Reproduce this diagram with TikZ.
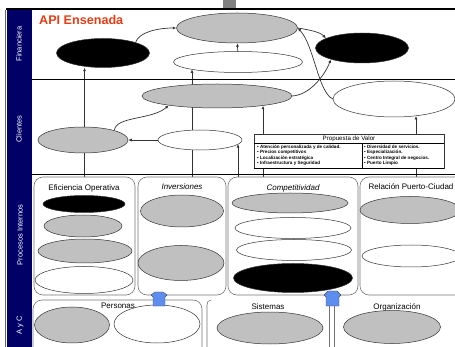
\documentclass[tikz,border=0pt]{standalone}
\usepackage{fontspec}
\setmainfont{Liberation Sans}
\usetikzlibrary{positioning,shapes.geometric,arrows.meta}
\definecolor{bandblue}{RGB}{0,0,102}
\definecolor{titlered}{RGB}{228,62,22}
\definecolor{ovalgray}{RGB}{192,192,192}
\definecolor{liftblue}{RGB}{92,142,240}
\pgfdeclarelayer{back}
\pgfsetlayers{back,main}

\begin{document}
\begin{tikzpicture}[
  x=1pt, y=-1pt,
  oval/.style={ellipse, draw=black!80, line width=0.5pt, inner sep=0pt},
  gryoval/.style={oval, fill=ovalgray},
  whtoval/.style={oval, fill=white},
  blkoval/.style={oval, fill=black},
  area/.style={draw=black!55, line width=0.6pt, rounded corners=9pt, inner sep=0pt},
  areatitle/.style={font=\fontsize{8}{9}\selectfont, inner sep=0pt},
  bandtext/.style={rotate=90, text=white, font=\fontsize{7.5}{8}\selectfont},
  arr/.style={-{Latex[length=3.5pt,width=3pt]}, line width=0.7pt, black!80},
  lift/.style={fill=liftblue, draw=black!70, line width=0.4pt, line join=round}
]
\useasboundingbox (0,0) rectangle (455,347);
\clip (0,0) rectangle (455,347);

% frame and perspective band
\fill[black!50] (223,0) rectangle (236,8);
\draw[line width=1.6pt] (6,9) -- (455,9);
\fill[bandblue] (7,10) rectangle (32,347);
\draw[black!60, line width=0.8pt] (5.5,10) -- (5.5,347);
\draw[line width=0.8pt] (32,79) -- (455,79);
\draw[line width=0.8pt] (32,174) -- (455,174);

\node[bandtext] (lbl-fin) at (19,44) {Financiera};
\node[bandtext] (lbl-cli) at (19,129) {Clientes};
\node[bandtext] (lbl-pro) at (20,235) {Procesos Internos};
\node[bandtext] (lbl-ayc) at (20,325) {A y C};

\node[font=\fontsize{12.6}{14}\bfseries\selectfont, text=titlered,
      anchor=west, inner sep=0pt] (title) at (39,20) {API Ensenada};

% Financiera
\node[gryoval, minimum width=121, minimum height=30] (fin-gray) at (237,28) {};
\node[blkoval, minimum width=93, minimum height=29] (fin-black) at (103,53) {};
\node[whtoval, minimum width=129, minimum height=21] (fin-white) at (238,62) {};
\node[blkoval, minimum width=93, minimum height=30] (fin-blk-r) at (362,48) {};

% Clientes
\node[gryoval, minimum width=150, minimum height=24] (cli-gray-top) at (217,96) {};
\node[whtoval, minimum width=122, minimum height=36] (cli-white-r) at (394,99) {};
\node[gryoval, minimum width=90, minimum height=26] (cli-gray) at (83,140) {};
\node[whtoval, minimum width=84, minimum height=20] (cli-white) at (200,140) {};

% Propuesta de valor
\node[draw=black!80, fill=white, line width=0.5pt, minimum width=190,
      minimum height=34, inner sep=0pt] (pv-box) at (349,151) {};
\draw[line width=1.4pt] (pv-box.south west) -- (pv-box.south east);
\draw[line width=0.4pt] (254,143.5) -- (444,143.5);
\draw[line width=0.4pt] (362,143.5) -- (362,168);
\node[font=\fontsize{6.2}{7}\selectfont, inner sep=0pt] (pv-title) at (349,139) {Propuesta de Valor};
\node[anchor=north west, align=left, inner sep=0pt,
      font=\fontsize{4.6}{5.5}\bfseries\selectfont] (pv-left) at (257,144.5)
  {• Atención personalizada y de calidad.\\• Precios competitivos\\• Localización estratégica\\• Infraestructura y Seguridad};
\node[anchor=north west, align=left, inner sep=0pt,
      font=\fontsize{4.6}{5.5}\bfseries\selectfont] (pv-right) at (364,144.5)
  {• Diversidad de servicios.\\• Especialización.\\• Centro Integral de negocios.\\• Puerto Limpio};

% Procesos internos
\node[area, minimum width=101, minimum height=118] (eff-area) at (84.5,236) {};
\node[area, minimum width=88, minimum height=118] (inv-area) at (182,236) {};
\node[area, minimum width=130, minimum height=118] (comp-area) at (293,236) {};
\node[area, minimum width=110, minimum height=118] (rel-area) at (415,236) {};

\node[areatitle] (eff-title) at (84,188) {Eficiencia Operativa};
\node[areatitle] (inv-title) at (182,187) {\itshape Inversiones};
\node[areatitle] (comp-title) at (293,188) {\itshape Competitividad};
\node[areatitle] (rel-title) at (411,187) {Relación Puerto-Ciudad};

\node[blkoval, minimum width=82, minimum height=17] (eff-black) at (84,204) {};
\node[gryoval, minimum width=78, minimum height=22] (eff-gray-a) at (83,226) {};
\node[gryoval, minimum width=94, minimum height=24] (eff-gray-b) at (85,251) {};
\node[whtoval, minimum width=98, minimum height=27] (eff-white) at (84,280) {};

\node[gryoval, minimum width=83, minimum height=32] (inv-gray-a) at (182,211) {};
\node[gryoval, minimum width=86, minimum height=35] (inv-gray-b) at (181,263) {};

\node[gryoval, minimum width=116, minimum height=20] (comp-gray) at (290,203) {};
\node[whtoval, minimum width=116, minimum height=21] (comp-white-a) at (293,228) {};
\node[whtoval, minimum width=115, minimum height=21] (comp-white-b) at (294,250) {};
\node[blkoval, minimum width=119, minimum height=29] (comp-black) at (293,278) {};

\node[gryoval, minimum width=100, minimum height=27] (rel-gray) at (410,210) {};
\node[whtoval, minimum width=98, minimum height=22] (rel-white) at (411,256) {};

% Aprendizaje y crecimiento
\node[area, minimum width=169, minimum height=60] (per-area) at (117.5,330) {};
\draw[black!55, line width=0.6pt] (207,350) -- (207,305) .. controls (207,302) and (208,300.5) .. (211,300);
\draw[black!55, line width=0.6pt] (329,350) -- (329,305);
\draw[black!55, line width=0.6pt] (334,350) -- (334,305);

\node[areatitle] (per-title) at (118,306) {Personas};
\node[areatitle] (sis-title) at (268,307) {Sistemas};
\node[areatitle] (org-title) at (397,307) {Organización};

\node[gryoval, minimum width=75, minimum height=36] (per-gray) at (72,325) {};
\node[whtoval, minimum width=86, minimum height=38] (per-white) at (157,324) {};
\node[gryoval, minimum width=106, minimum height=32] (sis-gray) at (270,328) {};
\node[gryoval, minimum width=97, minimum height=33] (org-gray) at (392,327) {};

\draw[lift] (153,306) -- (153,297) -- (151,295) -- (155,292) -- (163,292)
  -- (167,295) -- (165,297) -- (165,306) -- cycle;
\draw[lift] (326,306) -- (326,297) -- (324,295) -- (328,291) -- (337,291)
  -- (341,295) -- (339,297) -- (339,306) -- cycle;

% links behind the ovals
\coordinate (ft-b) at (192,177);
\coordinate (ft-c) at (238,177);
\coordinate (ft-d) at (263,177);
\coordinate (ft-e) at (416,177);
\begin{pgfonlayer}{back}
\draw[arr] (eff-area.north) -- (eff-area.north |- fin-black.south);
\draw[arr] (ft-b) -- (ft-b |- fin-white.189);
\draw[arr] (ft-c) -- (ft-c |- cli-white.-6);
\draw[arr] (ft-d) -- (ft-d |- cli-gray-top.-12);
\draw[arr] (ft-e) -- (ft-e |- cli-white-r.-37);
\end{pgfonlayer}

\draw[arr] (fin-white) -- (fin-gray);
\draw[arr] (cli-white) -- (cli-gray);
\draw[arr] (fin-black.18) .. controls (139,32) and (158,28) .. (fin-gray.west);
\draw[arr] (cli-gray.17) .. controls (116,116) and (152,120) .. (cli-gray-top.191);
\draw[arr] (cli-gray-top.east) .. controls (310,95) and (325,75) .. (fin-blk-r.200);
\draw[arr] (cli-white-r.west) .. controls (318,92) and (314,45) .. (fin-gray.east);
\draw[arr] (fin-gray.east) .. controls (310,30) and (320,32) .. (fin-blk-r.165);
\end{tikzpicture}
\end{document}
